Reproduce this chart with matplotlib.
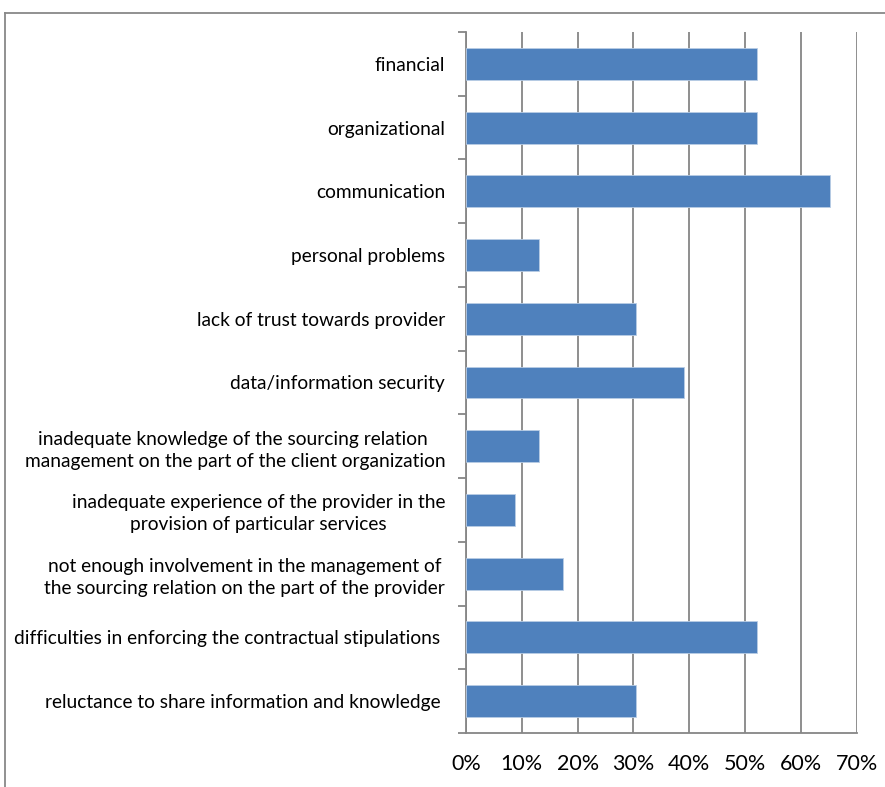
import matplotlib
matplotlib.use("Agg")
import matplotlib.pyplot as plt
from matplotlib.lines import Line2D
from matplotlib.ticker import MultipleLocator, FuncFormatter

categories = [
    "financial",
    "organizational",
    "communication",
    "personal problems",
    "lack of trust towards provider",
    "data/information security",
    "inadequate knowledge of the sourcing relation \nmanagement on the part of the client organization",
    "inadequate experience of the provider in the\nprovision of particular services",
    "not enough involvement in the management of\nthe sourcing relation on the part of the provider",
    "difficulties in enforcing the contractual stipulations ",
    "reluctance to share information and knowledge ",
]
values = [52.2, 52.2, 65.2, 13.0, 30.4, 39.1, 13.0, 8.7, 17.4, 52.2, 30.4]

plt.rcParams['font.family'] = ['Lato', 'DejaVu Sans']

fig = plt.figure(figsize=(8.85, 7.87), dpi=100)
ax = fig.add_axes([466/885, 1-733/787, (856.7-466)/885, (733-32)/787])

n = len(categories)
ypos = list(range(n))[::-1]
ax.barh(ypos, values, height=0.5, color="#4F81BD", edgecolor="#B9CDE5", linewidth=0.6, zorder=3)

ax.set_xlim(0, 70)
ax.set_ylim(-0.5, n - 0.5)
ax.xaxis.set_major_locator(MultipleLocator(10))
ax.xaxis.set_major_formatter(FuncFormatter(lambda v, p: f"{int(round(v))}%"))
ax.grid(axis="x", color="#868686", linewidth=1.3, zorder=0)
ax.tick_params(axis="x", length=0, labelsize=15.5, pad=15, colors="black")

ax.set_yticks(ypos)
ax.set_yticklabels(categories, fontsize=13.8, multialignment="center", linespacing=1.35)
ax.set_yticks([i - 0.5 for i in range(n + 1)], minor=True)
ax.tick_params(axis="y", which="major", length=0, pad=15)
ax.tick_params(axis="y", which="minor", length=6, width=1.3, color="#868686")

for s in ["top", "right"]:
    ax.spines[s].set_visible(False)
for s in ["left", "bottom"]:
    ax.spines[s].set_color("#868686")
    ax.spines[s].set_linewidth(1.3)

# outer frame lines
fig.add_artist(Line2D([5/885, 5/885], [0, 1-13/787], transform=fig.transFigure, color="#888888", linewidth=1.3))
fig.add_artist(Line2D([5/885, 1], [1-13/787, 1-13/787], transform=fig.transFigure, color="#888888", linewidth=1.3))

fig.savefig("out.png", dpi=100)
